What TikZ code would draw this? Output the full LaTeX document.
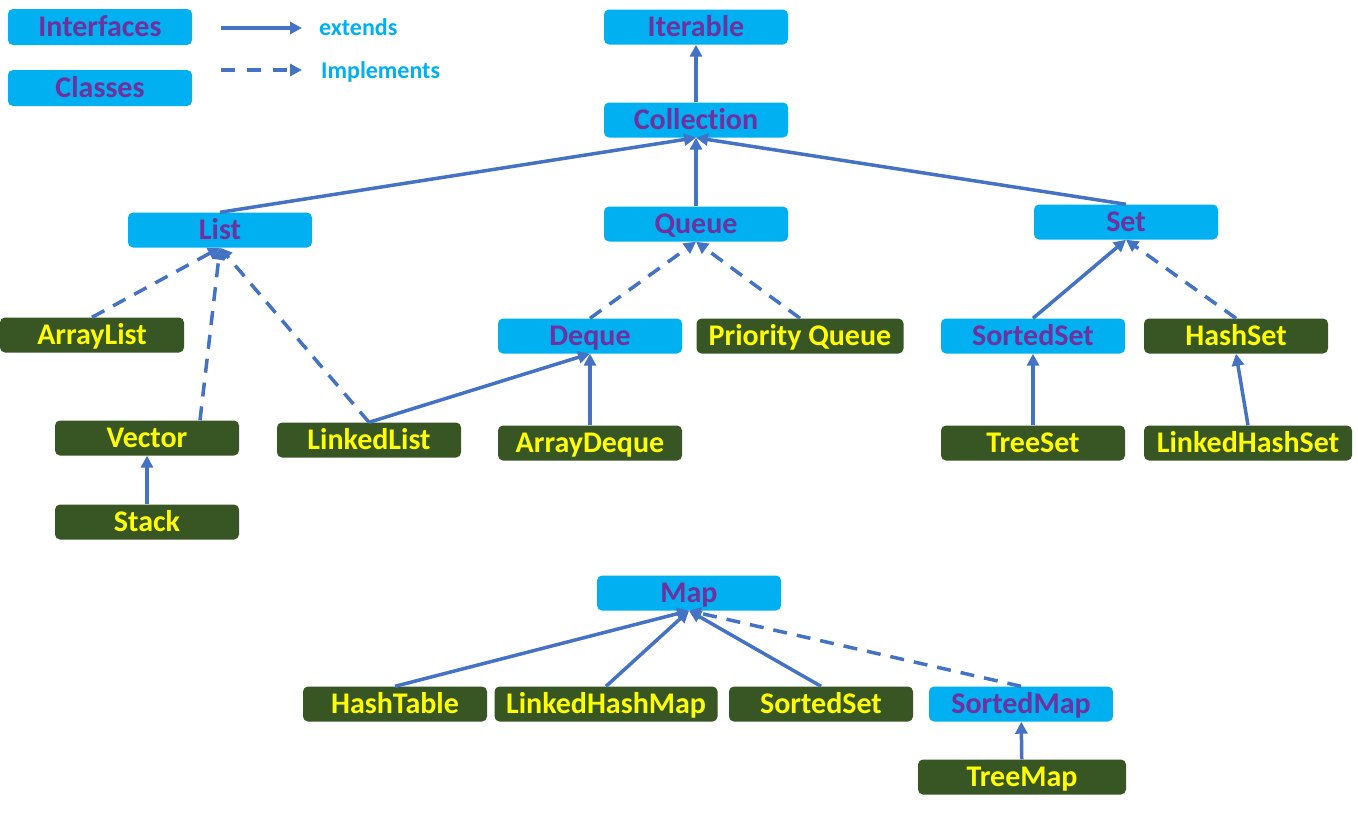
\documentclass[tikz,border=0pt]{standalone}
\usepackage{fontspec}
\setmainfont{Carlito}[Ligatures={NoCommon}]
\usetikzlibrary{arrows.meta}
\definecolor{ifill}{HTML}{00B0F0}
\definecolor{itext}{HTML}{7030A0}
\definecolor{cfill}{HTML}{375623}
\definecolor{ctext}{HTML}{FFFF00}
\definecolor{lblue}{HTML}{4472C4}
\begin{document}
\begin{tikzpicture}[x=1pt,y=-1pt,
  box/.style={rectangle, rounded corners=5pt, minimum width=184pt, minimum height=35pt, inner sep=0pt,
    text height=19.3pt, text depth=0pt, font=\fontsize{30}{33}\selectfont\bfseries},
  iface/.style={box, fill=ifill, text=itext},
  cls/.style={box, fill=cfill, text=ctext},
  legtext/.style={anchor=west, inner sep=0pt, text=ifill, text height=15.5pt, text depth=0pt, font=\fontsize{24}{28}\selectfont\bfseries},
  ext/.style={draw=lblue, line width=3.5pt, -{Triangle[length=12pt,width=12pt]}},
  impl/.style={ext, dash pattern=on 14pt off 10pt}]
\useasboundingbox (0,0) rectangle (1358,814);
% legend
\node[iface, minimum height=36pt] (leginterfaces) at (100,27) {Interfaces};
\node[iface, minimum height=36pt] (legclasses) at (100,88) {Classes};
\coordinate (l1s) at (221,28); \coordinate (l1e) at (302,28);
\coordinate (l2s) at (221,70); \coordinate (l2e) at (302,70);
\draw[ext] (l1s) -- (l1e);
\draw[ext, dash pattern=on 14pt off 12pt] (l2s) -- (l2e);
\node[legtext] (extends) at (319,28) {extends};
\node[legtext] (implements) at (321,71) {Implements};
% collection hierarchy
\node[iface] (iterable) at (696,27) {Iterable};
\node[iface] (collection) at (696,120) {Collection};
\node[iface] (list) at (220,230) {List};
\node[iface] (queue) at (696,224) {Queue};
\node[iface] (set) at (1126,222) {Set};
\node[cls] (arraylist) at (92,335) {ArrayList};
\node[iface] (deque) at (590,336) {Deque};
\node[cls, minimum width=207pt] (pqueue) at (800,336) {Priority Queue};
\node[iface] (sortedset) at (1033,336) {SortedSet};
\node[cls] (hashset) at (1236,336) {HashSet};
\node[cls] (vector) at (147,438) {Vector};
\node[cls] (linkedlist) at (369,440) {LinkedList};
\node[cls] (arraydeque) at (590,443) {ArrayDeque};
\node[cls] (treeset) at (1033,443) {TreeSet};
\node[cls, minimum width=208pt] (lhset) at (1248,443) {LinkedHashSet};
\node[cls] (stack) at (147,522) {Stack};
% map hierarchy
\node[iface] (map) at (689,593) {Map};
\node[cls] (hashtable) at (395,704) {HashTable};
\node[cls, minimum width=223pt] (lhmap) at (606,704) {LinkedHashMap};
\node[cls] (sortedset2) at (821,704) {SortedSet};
\node[iface] (sortedmap) at (1021,704) {SortedMap};
\node[cls, minimum width=208pt] (treemap) at (1022,777) {TreeMap};
% connectors
\draw[ext] (collection) -- (iterable);
\draw[ext] (list.north) -- (collection.south);
\draw[ext] (queue) -- (collection);
\draw[ext] (set.north) -- (collection.south);
\draw[impl] (arraylist.north) -- (list.south);
\draw[impl] ([xshift=53pt]vector.north) -- (list.south);
\draw[impl] (linkedlist.north) -- (list.south);
\draw[ext] (linkedlist.north) -- (deque.south);
\draw[ext] (arraydeque) -- (deque);
\draw[impl] (deque.north) -- (queue.south);
\draw[impl] (pqueue.north) -- (queue.south);
\draw[ext] (sortedset.north) -- (set.south);
\draw[impl] (hashset.north) -- (set.south);
\draw[ext] (treeset) -- (sortedset);
\draw[ext] (lhset.north) -- (hashset.south);
\draw[ext] (stack) -- (vector);
\draw[ext] (hashtable.north) -- (map.south);
\draw[ext] (lhmap.north) -- (map.south);
\draw[ext] (sortedset2.north) -- (map.south);
\draw[impl] (sortedmap.north) -- (map.south);
\draw[ext] (treemap) -- (sortedmap);
\end{tikzpicture}
\end{document}
